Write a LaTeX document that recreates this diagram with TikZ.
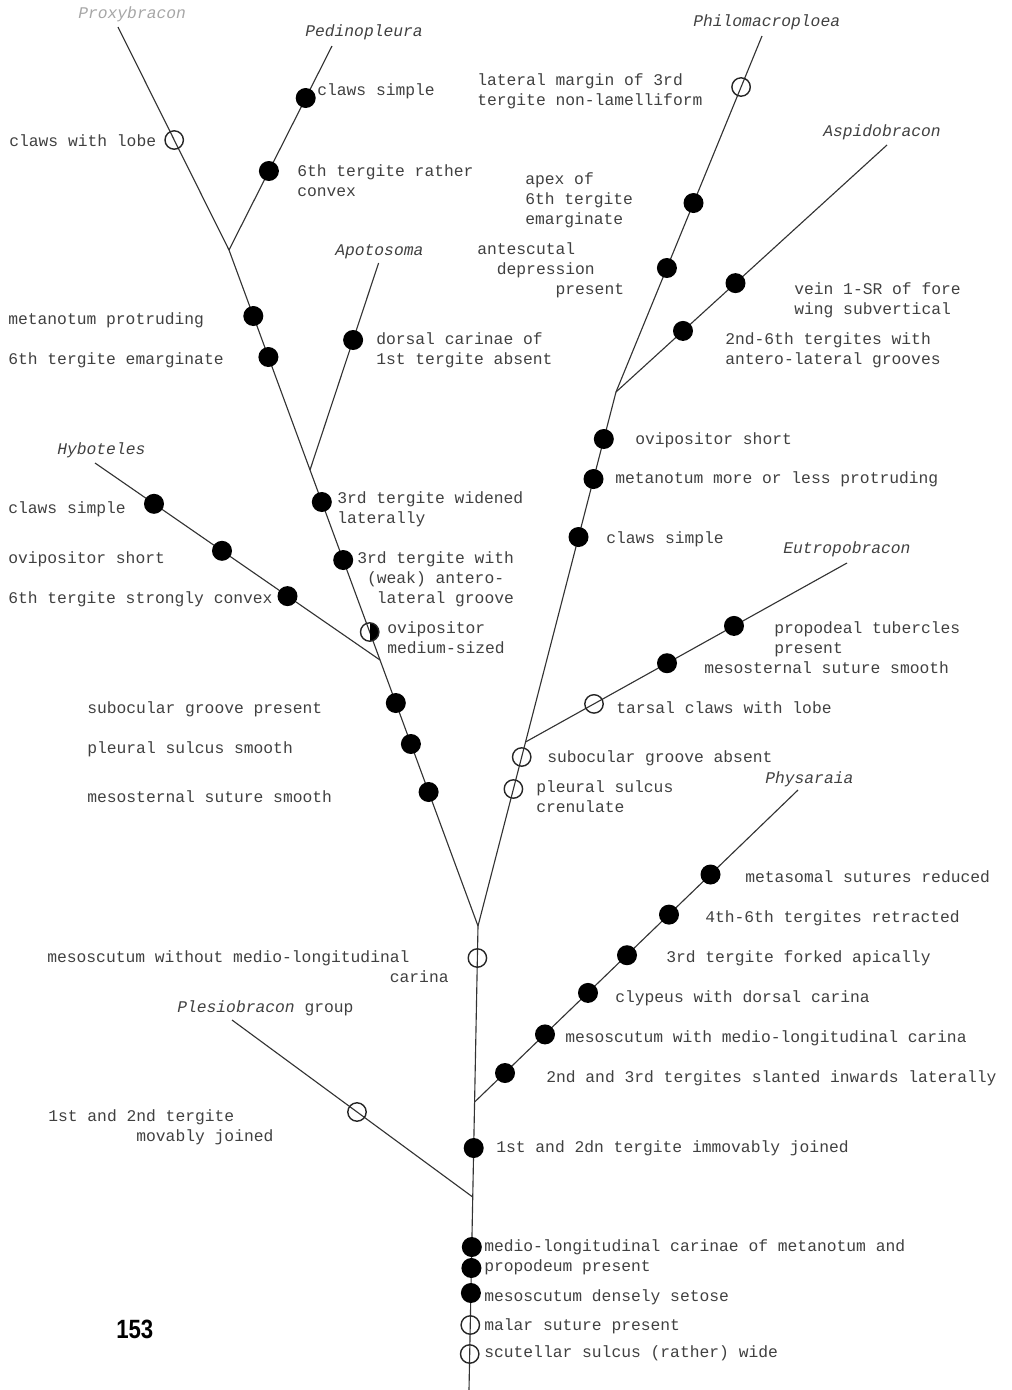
\documentclass[tikz,border=0pt]{standalone}
\usepackage{graphicx}
\usepackage{fontspec}
\setmainfont{Liberation Sans}
\setsansfont{Liberation Sans}
\setmonofont{Liberation Mono}
\newlength{\chw}
\setlength{\chw}{6.961pt}
\newcommand{\ind}[1]{\hspace*{#1\chw}}

\begin{document}
\begin{tikzpicture}[
    x = 0.025cm,
    y = -0.025cm,
    line join = round,
    branch/.style = {
        draw = black!80,
        line width = 0.8pt
    },
    apomorph/.style = {
        circle,
        fill = black,
        minimum size = 0.5cm,
        inner sep = 0pt
    },
    homoplas/.style = {
        circle,
        draw = black!85,
        line width = 1pt,
        minimum size = 0.46cm,
        inner sep = 0pt
    },
    halfapo/.style = {
        homoplas,
        path picture = {
            \fill [black] (path picture bounding box.north)
                rectangle (path picture bounding box.south east);
        }
    },
    trait/.style = {
        font = \ttfamily\fontsize{11.6}{14.2}\selectfont,
        text = black!75,
        inner sep = 0pt,
        anchor = base west,
        align = left
    },
    taxon/.style = {
        trait,
        font = \ttfamily\itshape\fontsize{11.6}{14.2}\selectfont
    }
]
    \useasboundingbox (0,0) rectangle (1012,1390);

    % branch points and tips
    \coordinate (root) at (469,1390);
    \coordinate (top)  at (478,926);
    \coordinate (jple) at (472.7,1197);
    \coordinate (jphy) at (474.6,1102);
    \coordinate (jhyb) at (380,660);
    \coordinate (japo) at (310,470);
    \coordinate (jped) at (229,250);
    \coordinate (jeut) at (525.5,742);
    \coordinate (jasp) at (616,392);
    \coordinate (tpro) at (118,27);
    \coordinate (tped) at (332,46);
    \coordinate (tapo) at (378.6,263);
    \coordinate (thyb) at (95,463);
    \coordinate (tphi) at (762,36);
    \coordinate (tasp) at (887,145);
    \coordinate (teut) at (847,563);
    \coordinate (tphy) at (798,790);
    \coordinate (tple) at (232,1020);

    % branches
    \draw [branch] (root) -- (top);
    \draw [branch] (top) -- (jped) -- (tpro);
    \draw [branch] (jped) -- (tped);
    \draw [branch] (japo) -- (tapo);
    \draw [branch] (jhyb) -- (thyb);
    \draw [branch] (top) -- (jasp) -- (tphi);
    \draw [branch] (jasp) -- (tasp);
    \draw [branch] (jeut) -- (teut);
    \draw [branch] (jphy) -- (tphy);
    \draw [branch] (jple) -- (tple);

    % taxa
    \node [taxon, text = black!35] (proxy) at (78,18) {Proxybracon};
    \node [taxon] (pedino) at (305,36) {Pedinopleura};
    \node [taxon] (apoto) at (335,255) {Apotosoma};
    \node [taxon] (hybot) at (57,454) {Hyboteles};
    \node [taxon] (philo) at (693,26) {Philomacroploea};
    \node [taxon] (aspido) at (823,136) {Aspidobracon};
    \node [taxon] (eutro) at (783,553) {Eutropobracon};
    \node [taxon] (physa) at (765,783) {Physaraia};
    \node [trait] (plesio) at (177,1012) {\textit{Plesiobracon} group};

    % Proxybracon and Pedinopleura
    \node [homoplas] (c1) at (174.2,140) {};
    \node [trait] at (9,146) {claws with lobe};
    \node [apomorph] (c2) at (305.7,98) {};
    \node [trait] at (317,95) {claws simple};
    \node [apomorph] (c3) at (268.9,171) {};
    \node [trait] at (297,196) {6th tergite rather\\convex};

    % Apotosoma
    \node [apomorph] (c4) at (353.1,340) {};
    \node [trait] at (376,364) {dorsal carinae of\\1st tergite absent};

    % left stem
    \node [apomorph] (c5) at (253.3,316) {};
    \node [trait] at (8,324) {metanotum protruding};
    \node [apomorph] (c6) at (268.4,357) {};
    \node [trait] at (8,364) {6th tergite emarginate};
    \node [apomorph] (c7) at (321.8,502) {};
    \node [trait] at (337,523) {3rd tergite widened\\laterally};
    \node [apomorph] (c8) at (343.2,560) {};
    \node [trait] at (357,603) {3rd tergite with\\\ind{1}(weak) antero-\\\ind{2}lateral groove};
    \node [halfapo] (c9) at (369.7,632) {};
    \node [trait] at (387,653) {ovipositor\\medium-sized};
    \node [apomorph] (c10) at (395.8,703) {};
    \node [trait] at (87,713) {subocular groove present};
    \node [apomorph] (c11) at (410.9,744) {};
    \node [trait] at (87,753) {pleural sulcus smooth};
    \node [apomorph] (c12) at (428.6,792) {};
    \node [trait] at (87,802) {mesosternal suture smooth};

    % Hyboteles
    \node [apomorph] (c13) at (154,503.8) {};
    \node [trait] at (8,513) {claws simple};
    \node [apomorph] (c14) at (222,550.8) {};
    \node [trait] at (8,563) {ovipositor short};
    \node [apomorph] (c15) at (287.5,596.1) {};
    \node [trait] at (8,603) {6th tergite strongly convex};

    % Philomacroploea and Aspidobracon
    \node [homoplas] (c16) at (741.1,87) {};
    \node [trait] at (477,105) {lateral margin of 3rd\\tergite non-lamelliform};
    \node [apomorph] (c17) at (693.5,203) {};
    \node [trait] at (525,224) {apex of\\6th tergite\\emarginate};
    \node [apomorph] (c18) at (666.9,268) {};
    \node [trait] at (477,294) {antescutal\\\ind{2}depression\\\ind{8}present};
    \node [apomorph] (c19) at (735.5,283.1) {};
    \node [trait] at (794,314) {vein 1-SR of fore\\wing subvertical};
    \node [apomorph] (c20) at (683,330.9) {};
    \node [trait] at (725,364) {2nd-6th tergites with\\antero-lateral grooves};

    % right stem
    \node [apomorph] (c21) at (603.8,439) {};
    \node [trait] at (635,444) {ovipositor short};
    \node [apomorph] (c22) at (593.5,479) {};
    \node [trait] at (615,483) {metanotum more or less protruding};
    \node [apomorph] (c23) at (578.5,537) {};
    \node [trait] at (606,543) {claws simple};
    \node [homoplas] (c24) at (521.7,757) {};
    \node [trait] at (547,762) {subocular groove absent};
    \node [homoplas] (c25) at (513.4,789) {};
    \node [trait] at (536,812) {pleural sulcus\\crenulate};

    % Eutropobracon
    \node [apomorph] (c26) at (734,625.9) {};
    \node [trait] at (774,653) {propodeal tubercles\\present};
    \node [apomorph] (c27) at (667,663.2) {};
    \node [trait] at (704,673) {mesosternal suture smooth};
    \node [homoplas] (c28) at (594,703.9) {};
    \node [trait] at (616,713) {tarsal claws with lobe};

    % Physaraia
    \node [apomorph] (c29) at (710.5,874.5) {};
    \node [trait] at (745,882) {metasomal sutures reduced};
    \node [apomorph] (c30) at (669,914.6) {};
    \node [trait] at (705,922) {4th-6th tergites retracted};
    \node [apomorph] (c31) at (627,955.2) {};
    \node [trait] at (666,962) {3rd tergite forked apically};
    \node [apomorph] (c32) at (588,992.9) {};
    \node [trait] at (615,1002) {clypeus with dorsal carina};
    \node [apomorph] (c33) at (545,1034.4) {};
    \node [trait] at (565,1042) {mesoscutum with medio-longitudinal carina};
    \node [apomorph] (c34) at (505,1073) {};
    \node [trait] at (546,1082) {2nd and 3rd tergites slanted inwards laterally};

    % Plesiobracon group
    \node [homoplas] (c35) at (357,1112) {};
    \node [trait] at (48,1141) {1st and 2nd tergite\\\ind{9}movably joined};

    % main stem
    \node [homoplas] (c36) at (477.4,958) {};
    \node [trait] at (47,982) {mesoscutum without medio-longitudinal\\\ind{35}carina};
    \node [apomorph] (c37) at (473.7,1148) {};
    \node [trait] at (496,1152) {1st and 2dn tergite immovably joined};
    \node [apomorph] (c38) at (471.8,1247) {};
    \node [apomorph] (c39) at (471.4,1268) {};
    \node [trait] at (484,1271) {medio-longitudinal carinae of metanotum and\\propodeum present};
    \node [apomorph] (c40) at (470.9,1293) {};
    \node [trait] at (484,1301) {mesoscutum densely setose};
    \node [homoplas] (c41) at (470.3,1325) {};
    \node [trait] at (484,1330) {malar suture present};
    \node [homoplas] (c42) at (469.7,1354) {};
    \node [trait] at (484,1357) {scutellar sulcus (rather) wide};

    % figure number
    \node [font = \sffamily\bfseries\fontsize{18.8}{18.8}\selectfont, anchor = base west, inner sep = 0pt] (fignum) at (116,1338) {\scalebox{0.84}[1]{153}};
\end{tikzpicture}
\end{document}
